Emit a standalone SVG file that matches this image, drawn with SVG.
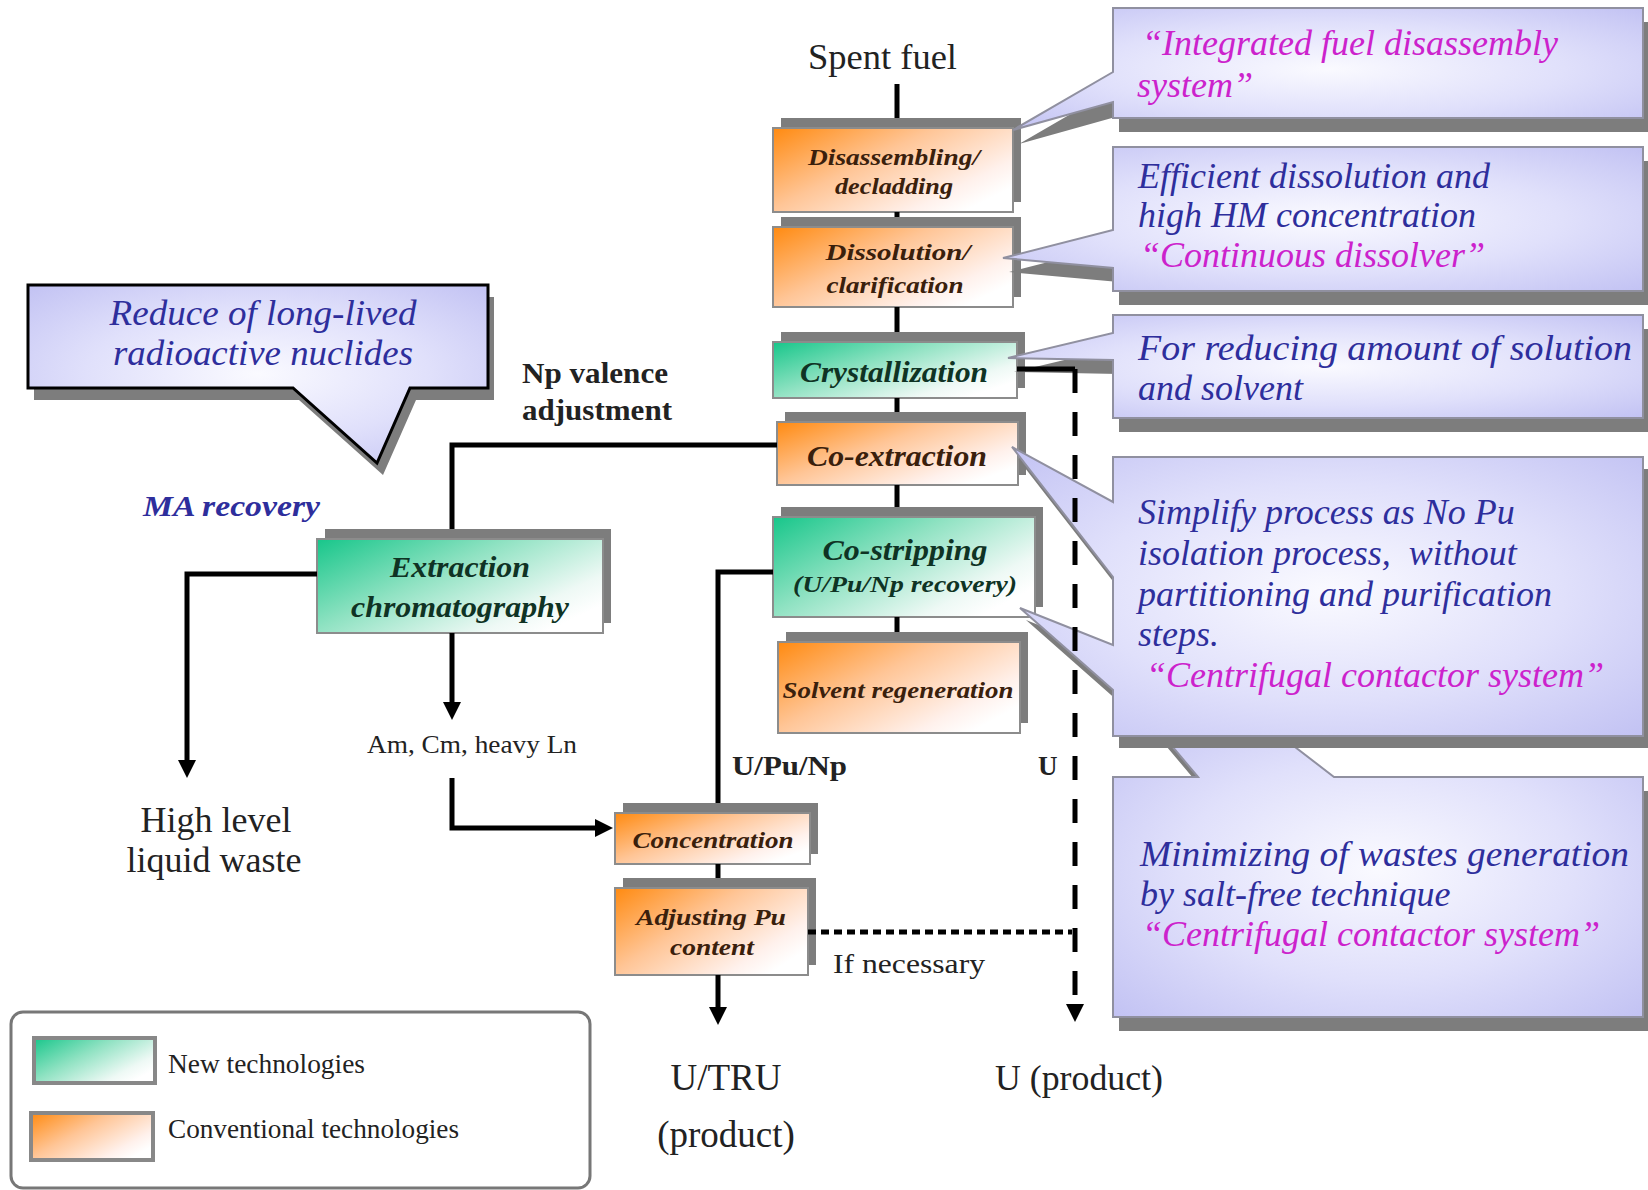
<svg xmlns="http://www.w3.org/2000/svg" width="1648" height="1190" viewBox="0 0 1648 1190">
<defs>
  <linearGradient id="gOr" x1="0" y1="0" x2="1" y2="0.7">
    <stop offset="0" stop-color="#ff8a10"/>
    <stop offset="0.45" stop-color="#ffc596"/>
    <stop offset="0.85" stop-color="#fff1ec"/>
    <stop offset="1" stop-color="#ffffff"/>
  </linearGradient>
  <linearGradient id="gGr" x1="0" y1="0" x2="1" y2="0.7">
    <stop offset="0" stop-color="#17c68a"/>
    <stop offset="0.45" stop-color="#8fe2c2"/>
    <stop offset="0.85" stop-color="#eef9f5"/>
    <stop offset="1" stop-color="#ffffff"/>
  </linearGradient>
  <radialGradient id="gCo" cx="0.5" cy="0.5" r="0.75">
    <stop offset="0" stop-color="#fafaff"/>
    <stop offset="0.5" stop-color="#e0e0fb"/>
    <stop offset="1" stop-color="#bebef2"/>
  </radialGradient>
  <marker id="ah" viewBox="0 0 10 10" refX="0" refY="5" markerWidth="18" markerHeight="20" markerUnits="userSpaceOnUse" orient="auto">
    <path d="M0,0 L10,5 L0,10 Z" fill="#000"/>
  </marker>
</defs>
<style>
  .sh{fill:#7d7d7d}
  .box{stroke:#8c8c8c;stroke-width:2}
  .or{fill:url(#gOr)}
  .gr{fill:url(#gGr)}
  .bt{font-family:"Liberation Serif","Times New Roman",serif;font-style:italic;font-weight:bold;text-anchor:middle}
  .tor{fill:#3a200c}
  .tgr{fill:#0f3324}
  .co{fill:url(#gCo);stroke:#9090a0;stroke-width:2}
  .cok{fill:url(#gCo);stroke:#000;stroke-width:3}
  .cs{fill:#7d7d7d}
  .ct{font-family:"Liberation Serif","Times New Roman",serif;font-style:italic;font-size:36px;fill:#2e2e9c}
  .mg{fill:#cc22cc}
  .ln{fill:none;stroke:#000;stroke-width:5}
  .lbl{font-family:"Liberation Serif","Times New Roman",serif;fill:#222}
  .bold{font-weight:bold}
</style>
<rect x="0" y="0" width="1648" height="1190" fill="#ffffff"/>

<!-- Process boxes -->
<g id="disassembling">
  <rect class="sh" x="781" y="118" width="240" height="84"/>
  <rect class="box or" x="773" y="128" width="240" height="84"/>
  <text class="bt tor" x="894" y="165" font-size="24" textLength="172" lengthAdjust="spacingAndGlyphs">Disassembling/</text>
  <text class="bt tor" x="894" y="194" font-size="24" textLength="118" lengthAdjust="spacingAndGlyphs">decladding</text>
</g>
<g id="dissolution">
  <rect class="sh" x="781" y="217" width="240" height="80"/>
  <rect class="box or" x="773" y="227" width="240" height="80"/>
  <text class="bt tor" x="898" y="260" font-size="24" textLength="145" lengthAdjust="spacingAndGlyphs">Dissolution/</text>
  <text class="bt tor" x="895" y="293" font-size="24" textLength="137" lengthAdjust="spacingAndGlyphs">clarification</text>
</g>
<g id="crystallization">
  <rect class="sh" x="781" y="332" width="244" height="56"/>
  <rect class="box gr" x="773" y="342" width="244" height="56"/>
  <text class="bt tgr" x="894" y="382" font-size="29" textLength="188" lengthAdjust="spacingAndGlyphs">Crystallization</text>
</g>
<g id="coextraction">
  <rect class="sh" x="785" y="412" width="241" height="63"/>
  <rect class="box or" x="777" y="422" width="241" height="63"/>
  <text class="bt tor" x="897" y="466" font-size="29" textLength="180" lengthAdjust="spacingAndGlyphs">Co-extraction</text>
</g>
<g id="costripping">
  <rect class="sh" x="781" y="507" width="262" height="100"/>
  <rect class="box gr" x="773" y="517" width="262" height="100"/>
  <text class="bt tgr" x="905" y="560" font-size="29" textLength="165" lengthAdjust="spacingAndGlyphs">Co-stripping</text>
  <text class="bt tgr" x="905" y="592" font-size="23" textLength="224" lengthAdjust="spacingAndGlyphs">(U/Pu/Np recovery)</text>
</g>
<g id="solvent">
  <rect class="sh" x="786" y="632" width="242" height="91"/>
  <rect class="box or" x="778" y="642" width="242" height="91"/>
  <text class="bt tor" x="898" y="698" font-size="24" textLength="231" lengthAdjust="spacingAndGlyphs">Solvent regeneration</text>
</g>
<g id="extraction">
  <rect class="sh" x="325" y="529" width="286" height="94"/>
  <rect class="box gr" x="317" y="539" width="286" height="94"/>
  <text class="bt tgr" x="460" y="577" font-size="30" textLength="140" lengthAdjust="spacingAndGlyphs">Extraction</text>
  <text class="bt tgr" x="460" y="617" font-size="30" textLength="218" lengthAdjust="spacingAndGlyphs">chromatography</text>
</g>
<g id="concentration">
  <rect class="sh" x="623" y="803" width="195" height="51"/>
  <rect class="box or" x="615" y="813" width="195" height="51"/>
  <text class="bt tor" x="713" y="848" font-size="24" textLength="161" lengthAdjust="spacingAndGlyphs">Concentration</text>
</g>
<g id="adjusting">
  <rect class="sh" x="623" y="878" width="193" height="87"/>
  <rect class="box or" x="615" y="888" width="193" height="87"/>
  <text class="bt tor" x="711" y="925" font-size="23" textLength="150" lengthAdjust="spacingAndGlyphs">Adjusting Pu</text>
  <text class="bt tor" x="712" y="955" font-size="23" textLength="84" lengthAdjust="spacingAndGlyphs">content</text>
</g>

<!-- Callouts -->
<g id="callout-disassembly">
  <path class="cs" transform="translate(6,14)" d="M1113,8 H1643 V118 H1113 V102 L1013,130 L1113,72 Z"/>
  <path class="co" d="M1113,8 H1643 V118 H1113 V102 L1013,130 L1113,72 Z"/>
  <text class="ct mg" x="1142" y="55" font-size="35">“Integrated fuel disassembly</text>
  <text class="ct mg" x="1137" y="97" font-size="35">system”</text>
</g>
<g id="callout-dissolver">
  <path class="cs" transform="translate(6,14)" d="M1113,147 H1643 V291 H1113 V268 L1003,258 L1113,230 Z"/>
  <path class="co" d="M1113,147 H1643 V291 H1113 V268 L1003,258 L1113,230 Z"/>
  <text class="ct" x="1138" y="188">Efficient dissolution and</text>
  <text class="ct" x="1138" y="227">high HM concentration</text>
  <text class="ct mg" x="1140" y="267">“Continuous dissolver”</text>
</g>
<g id="callout-crystallization">
  <path class="cs" transform="translate(6,14)" d="M1113,315 H1643 V418 H1113 V360 L1008,358 L1113,333 Z"/>
  <path class="co" d="M1113,315 H1643 V418 H1113 V360 L1008,358 L1113,333 Z"/>
  <text class="ct" x="1138" y="360" textLength="494" lengthAdjust="spacingAndGlyphs">For reducing amount of solution</text>
  <text class="ct" x="1138" y="400">and solvent</text>
</g>
<g id="callout-wastes">
  <path class="cs" transform="translate(6,14)" d="M1198,777 L1150,720 L1260,720 L1334,777 H1643 V1017 H1113 V777 Z"/>
  <path class="co" d="M1198,777 L1150,720 L1260,720 L1334,777 H1643 V1017 H1113 V777 Z"/>
  <text class="ct" x="1140" y="866" textLength="489" lengthAdjust="spacingAndGlyphs">Minimizing of wastes generation</text>
  <text class="ct" x="1140" y="906">by salt-free technique</text>
  <text class="ct mg" x="1142" y="946">“Centrifugal contactor system”</text>
</g>
<g id="callout-centrifugal">
  <path class="cs" transform="translate(6,12)" d="M1113,457 H1643 V736 H1113 V690 L1020,608 L1113,645 V577 L1012,447 L1113,502 Z"/>
  <path class="co" d="M1113,457 H1643 V736 H1113 V690 L1020,608 L1113,645 V577 L1012,447 L1113,502 Z"/>
  <text class="ct" x="1138" y="524">Simplify process as No Pu</text>
  <text class="ct" x="1138" y="565" xml:space="preserve">isolation process,  without</text>
  <text class="ct" x="1138" y="606">partitioning and purification</text>
  <text class="ct" x="1138" y="646">steps.</text>
  <text class="ct mg" x="1146" y="687">“Centrifugal contactor system”</text>
</g>
<g id="callout-reduce">
  <path class="cs" transform="translate(6,12)" d="M28,285 H488 V388 H410 L377,463 L293,388 H28 Z"/>
  <path class="cok" d="M28,285 H488 V388 H410 L377,463 L293,388 H28 Z"/>
  <text class="ct" x="263" y="325" text-anchor="middle" textLength="307" lengthAdjust="spacingAndGlyphs">Reduce of long-lived</text>
  <text class="ct" x="263" y="365" text-anchor="middle" textLength="300" lengthAdjust="spacingAndGlyphs">radioactive nuclides</text>
</g>

<!-- Labels -->
<g id="labels">
  <text class="lbl" x="808" y="69" font-size="36" textLength="149" lengthAdjust="spacingAndGlyphs">Spent fuel</text>
  <text class="lbl bold" x="522" y="383" font-size="30" fill="#111" textLength="146" lengthAdjust="spacingAndGlyphs">Np valence</text>
  <text class="lbl bold" x="522" y="420" font-size="30" fill="#111" textLength="150" lengthAdjust="spacingAndGlyphs">adjustment</text>
  <text x="143" y="516" font-family="Liberation Serif, Times New Roman, serif" font-style="italic" font-weight="bold" font-size="30" fill="#2e2e9c" textLength="177" lengthAdjust="spacingAndGlyphs">MA recovery</text>
  <text class="lbl" x="472" y="753" font-size="25" text-anchor="middle" textLength="210" lengthAdjust="spacingAndGlyphs">Am, Cm, heavy Ln</text>
  <text class="lbl" x="216" y="832" font-size="36" text-anchor="middle" fill="#333">High level</text>
  <text class="lbl" x="214" y="872" font-size="36" text-anchor="middle" fill="#333">liquid waste</text>
  <text class="lbl bold" x="732" y="775" font-size="27" textLength="115" lengthAdjust="spacingAndGlyphs">U/Pu/Np</text>
  <text class="lbl bold" x="1038" y="775" font-size="27">U</text>
  <text class="lbl" x="833" y="973" font-size="28" textLength="152" lengthAdjust="spacingAndGlyphs">If necessary</text>
  <text class="lbl" x="726" y="1090" font-size="37" text-anchor="middle" fill="#333">U/TRU</text>
  <text class="lbl" x="726" y="1147" font-size="37" text-anchor="middle" fill="#333">(product)</text>
  <text class="lbl" x="995" y="1090" font-size="36" fill="#333" textLength="168" lengthAdjust="spacingAndGlyphs">U (product)</text>
</g>

<!-- Legend -->
<g id="legend">
  <rect x="11" y="1012" width="579" height="176" rx="12" fill="#fff" stroke="#777" stroke-width="3"/>
  <rect x="34" y="1038" width="121" height="45" fill="url(#gGr)" stroke="#888" stroke-width="4"/>
  <rect x="31" y="1113" width="122" height="47" fill="url(#gOr)" stroke="#888" stroke-width="4"/>
  <text class="lbl" x="168" y="1073" font-size="27" textLength="197" lengthAdjust="spacingAndGlyphs">New technologies</text>
  <text class="lbl" x="168" y="1138" font-size="27" textLength="291" lengthAdjust="spacingAndGlyphs">Conventional technologies</text>
</g>

<!-- Connectors -->
<g id="connectors">
  <path class="ln" d="M897,84 V118 M897,212 V217 M897,307 V332 M897,398 V412 M897,485 V507 M897,617 V632"/>
  <path class="ln" d="M777,445 H452 V529"/>
  <path class="ln" stroke-width="6" d="M317,574 H187 V760" marker-end="url(#ah)"/>
  <path class="ln" stroke-width="6" d="M452,633 V702" marker-end="url(#ah)"/>
  <path class="ln" stroke-width="6" d="M452,778 V828 H595" marker-end="url(#ah)"/>
  <path class="ln" d="M773,572 H718 V803"/>
  <path class="ln" d="M718,864 V878"/>
  <path class="ln" stroke-width="6" d="M718,975 V1007" marker-end="url(#ah)"/>
  <path class="ln" stroke-width="4" d="M1017,369 H1075"/>
  <path class="ln" stroke-width="7" stroke-dasharray="24 19" d="M1075,369 V1004" marker-end="url(#ah)"/>
  <path class="ln" stroke-width="3" stroke-dasharray="8 5" d="M808,932 H1072"/>
</g>
</svg>
